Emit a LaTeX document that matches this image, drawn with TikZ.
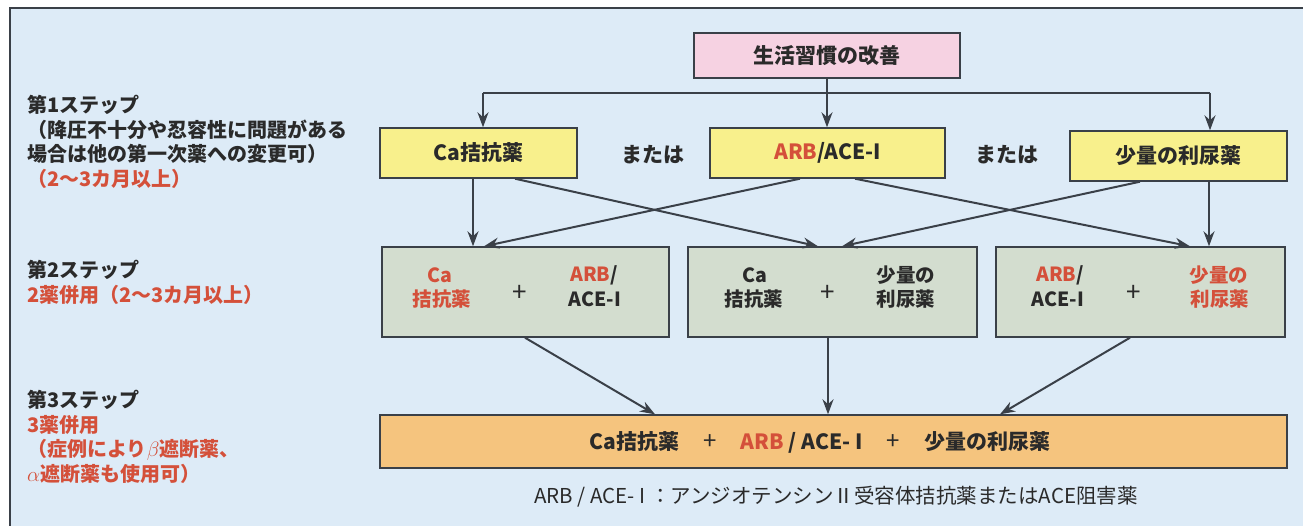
\documentclass[tikz,border=0pt]{standalone}
\usepackage{fontspec}
\setmainfont{Noto Sans CJK JP}
\usetikzlibrary{arrows.meta}
\definecolor{bgc}{HTML}{DDEBF7}
\definecolor{darkc}{HTML}{2A2A2A}
\definecolor{redc}{HTML}{D4503A}
\definecolor{pinkc}{HTML}{F6D2E2}
\definecolor{yellowc}{HTML}{F8F08C}
\definecolor{greenc}{HTML}{D3DDCF}
\definecolor{orangec}{HTML}{F5C47E}
\definecolor{linec}{HTML}{3A4048}
\tikzset{
  box/.style={draw=linec, line width=1.4pt, inner sep=0pt},
  txt/.style={inner sep=0pt, text=darkc, font=\fontsize{19.5}{23}\selectfont\bfseries},
  big/.style={txt, font=\fontsize{21}{25}\selectfont\bfseries},
  plus/.style={inner sep=0pt, text=darkc, font=\fontsize{26}{28}\selectfont},
  lbl/.style={inner sep=0pt, text=darkc, align=left, anchor=north west, font=\fontsize{20}{24.5}\selectfont\bfseries},
  ln/.style={draw=linec, line width=2pt},
  arr/.style={ln, -{Stealth[length=15pt,width=11pt]}},
}
\begin{document}
\begin{tikzpicture}[x=1pt,y=-1pt]
\useasboundingbox (0,0) rectangle (1303,526);
\fill[white] (0,0) rectangle (1303,526);
\fill[bgc] (10,8) rectangle (1303,526);
\draw[linec, line width=1.5pt] (10,526) -- (10,8) -- (1303,8);

% left labels
\node[lbl] (s1) at (27,95) {第1ステップ\\（降圧不十分や忍容性に問題がある\\場合は他の第一次薬への変更可）\\\textcolor{redc}{（2～3カ月以上）}};
\node[lbl] (s2) at (27,260) {第2ステップ\\\textcolor{redc}{2薬併用（2～3カ月以上）}};
\node[lbl] (s3) at (27,390) {第3ステップ\\\textcolor{redc}{3薬併用}\\\textcolor{redc}{（症例により$\beta$遮断薬、}\\\textcolor{redc}{$\alpha$遮断薬も使用可）}};

% top
\node[box, fill=pinkc, minimum width=266pt, minimum height=45pt] (top) at (827,55.5) {};
\node[big] (topt) at (top.center) {生活習慣の改善};

% level 1
\node[box, fill=yellowc, minimum width=197pt, minimum height=50pt] (L1a) at (478.5,153) {};
\node[box, fill=yellowc, minimum width=235pt, minimum height=50pt] (L1b) at (827.5,153) {};
\node[box, fill=yellowc, minimum width=217pt, minimum height=50pt] (L1c) at (1178.5,156) {};
\node[big] (L1at) at (L1a.center) {Ca拮抗薬};
\node[big] (L1bt) at (L1b.center) {\textcolor{redc}{ARB}/ACE-I};
\node[big] (L1ct) at (L1c.center) {少量の利尿薬};
\node[big] (or1) at (653,155) {または};
\node[big] (or2) at (1007,155) {または};

% level 2
\node[box, fill=greenc, minimum width=287pt, minimum height=90pt] (L2a) at (525.5,292) {};
\node[box, fill=greenc, minimum width=289pt, minimum height=90pt] (L2b) at (832.5,292) {};
\node[box, fill=greenc, minimum width=289pt, minimum height=90pt] (L2c) at (1140.5,292) {};

\node[txt, text=redc] (a1) at (440,275) {Ca};
\node[txt, text=redc] (a2) at (442,299) {拮抗薬};
\node[plus] (ap) at (520,293) {+};
\node[txt] (a3) at (594,275) {\textcolor{redc}{ARB}/};
\node[txt] (a4) at (595,299) {ACE-I};

\node[txt] (b1) at (755,275) {Ca};
\node[txt] (b2) at (754,299) {拮抗薬};
\node[plus] (bp) at (828,293) {+};
\node[txt] (b3) at (906,275) {少量の};
\node[txt] (b4) at (906,299) {利尿薬};

\node[txt] (c1) at (1060,275) {\textcolor{redc}{ARB}/};
\node[txt] (c2) at (1058,299) {ACE-I};
\node[plus] (cp) at (1134,293) {+};
\node[txt, text=redc] (c3) at (1219,275) {少量の};
\node[txt, text=redc] (c4) at (1220,299) {利尿薬};

% level 3
\node[box, fill=orangec, minimum width=907pt, minimum height=53pt] (L3) at (833.5,441.5) {};
\node[big] (L3t) at (820,442) {Ca拮抗薬\hspace{24pt}{\fontsize{24}{26}\selectfont\mdseries +}\hspace{24pt}\textcolor{redc}{ARB} / ACE- I\hspace{24pt}{\fontsize{24}{26}\selectfont\mdseries +}\hspace{24pt}少量の利尿薬};

% footnote
\node[txt, font=\fontsize{20.5}{24}\selectfont] (note) at (836,497) {ARB / ACE- I ：アンジオテンシンⅡ受容体拮抗薬またはACE阻害薬};

% connectors top -> level 1
\coordinate (busL) at (483,93);
\coordinate (busR) at (1210,93);
\coordinate (busM) at (top.south |- busL);
\draw[ln] (top.south) -- (busM);
\draw[ln] (busL) -- (busR);
\draw[arr] (busL) -- (busL |- L1a.north);
\draw[arr] (busM) -- (busM |- L1b.north);
\draw[arr] (busR) -- (busR |- L1c.north);

% level 1 -> level 2
\draw[arr] (L1a.south -| 473,0) -- (L2a.north -| 473,0);
\draw[arr] (L1a.south -| 515,0) -- (L2b.north -| 818,0);
\draw[arr] (L1b.south -| 800,0) -- (L2a.north -| 484,0);
\draw[arr] (L1b.south -| 855,0) -- (L2c.north -| 1190,0);
\draw[arr] (L1c.south -| 1140,0) -- (L2b.north -| 842,0);
\draw[arr] (L1c.south -| 1209,0) -- (L2c.north -| 1209,0);

% level 2 -> level 3
\draw[arr] (L2a.south -| 525,0) -- (L3.north -| 655,0);
\draw[arr] (L2b.south -| 828,0) -- (L3.north -| 828,0);
\draw[arr] (L2c.south -| 1130,0) -- (L3.north -| 1000,0);
\end{tikzpicture}
\end{document}
